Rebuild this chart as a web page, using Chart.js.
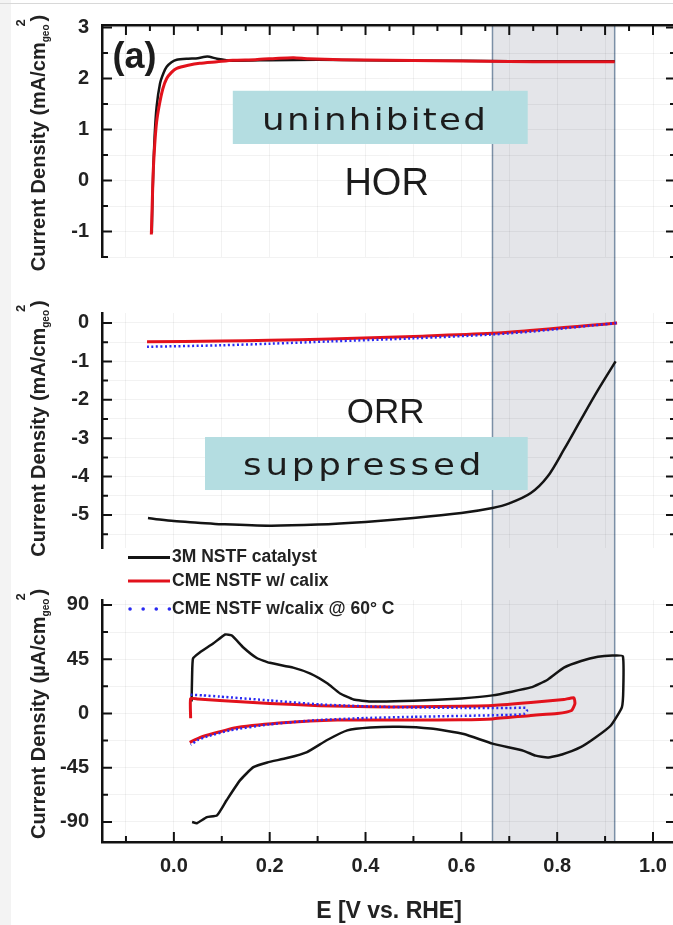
<!DOCTYPE html>
<html>
<head>
<meta charset="utf-8">
<script src="https://cdn.jsdelivr.net/npm/chart.js@4.4.1/dist/chart.umd.min.js"></script>
<style>
  html, body { margin: 0; padding: 0; background: #fff; }
  #wrap { position: relative; width: 673px; height: 925px; overflow: hidden; background: #fff; }
  #wrap .strip { position: absolute; left: 0; top: 0; width: 11px; height: 925px; background: #f3f3f3; }
  #wrap .rule { position: absolute; left: 0; top: 3px; width: 673px; height: 1px; background: #d8d8d8; }
  canvas { position: absolute; left: 0; }
</style>
</head>
<body>
<div id="wrap">
  <div class="strip"></div><div class="rule"></div>
  <canvas id="hor" width="680" height="285" style="top:0px"></canvas>
  <canvas id="orr" width="680" height="290" style="top:285px"></canvas>
  <canvas id="cv" width="680" height="380" style="top:545px"></canvas>
</div>
<script>
// values
var bandRange = [0.665, 0.92];
var seriesNames = ['3M NSTF catalyst', 'CME NSTF w/ calix', 'CME NSTF w/calix @ 60\u00b0 C'];

// HOR, mA/cm2
var hor3mX = [-0.046, -0.045, -0.043, -0.040, -0.036, -0.029, -0.022, -0.015, -0.005, 0.006, 0.03, 0.05, 0.07, 0.09, 0.12, 0.2, 0.3, 0.4, 0.5, 0.6, 0.7, 0.8, 0.92];
var hor3mY = [-1.03, -0.5, 0.2, 0.9, 1.45, 1.9, 2.1, 2.23, 2.32, 2.37, 2.39, 2.4, 2.43, 2.39, 2.35, 2.36, 2.37, 2.36, 2.35, 2.35, 2.34, 2.34, 2.34];
var horCmeX = [-0.047, -0.045, -0.043, -0.040, -0.036, -0.030, -0.023, -0.015, -0.005, 0.006, 0.03, 0.054, 0.09, 0.123, 0.17, 0.22, 0.25, 0.28, 0.35, 0.45, 0.55, 0.65, 0.75, 0.85, 0.92];
var horCmeY = [-1.06, -0.4, 0.2, 0.7, 1.15, 1.5, 1.8, 2.0, 2.12, 2.2, 2.26, 2.3, 2.33, 2.36, 2.37, 2.4, 2.41, 2.39, 2.37, 2.36, 2.35, 2.34, 2.33, 2.33, 2.33];

// ORR, mA/cm2
var orr3mX = [-0.054, -0.03, 0.0, 0.05, 0.1, 0.2, 0.3, 0.4, 0.5, 0.6, 0.665, 0.7, 0.745, 0.78, 0.814, 0.849, 0.885, 0.922];
var orr3mY = [-5.08, -5.12, -5.16, -5.2, -5.24, -5.28, -5.25, -5.18, -5.08, -4.95, -4.82, -4.7, -4.43, -4.0, -3.3, -2.53, -1.75, -1.0];
var orrCmeX = [-0.056, 0.1, 0.2, 0.326, 0.5, 0.665, 0.75, 0.814, 0.87, 0.925];
var orrCmeY = [-0.49, -0.47, -0.45, -0.42, -0.35, -0.27, -0.19, -0.12, -0.06, 0.0];
var orr60X = [-0.056, 0.1, 0.2, 0.326, 0.5, 0.665, 0.75, 0.814, 0.87, 0.925];
var orr60Y = [-0.62, -0.58, -0.54, -0.48, -0.4, -0.3, -0.22, -0.14, -0.07, 0.0];

// CV, uA/cm2 (anodic sweep then cathodic sweep)
var cv3mX = [0.037, 0.038, 0.040, 0.054, 0.082, 0.107, 0.121, 0.145, 0.173, 0.2, 0.249, 0.285, 0.32, 0.347, 0.375, 0.41, 0.5, 0.6, 0.665, 0.745, 0.78, 0.814, 0.85, 0.885, 0.915, 0.937, 0.938, 0.935, 0.912, 0.88, 0.849, 0.81, 0.78, 0.755, 0.73, 0.665, 0.605, 0.536, 0.47, 0.41, 0.362, 0.32, 0.278, 0.236, 0.195, 0.166, 0.138, 0.11, 0.09, 0.069, 0.048, 0.038];
var cv3mY = [10, 30, 45.6, 50.6, 58, 65.5, 64.6, 54.7, 46, 42, 38, 33, 25, 16.6, 11.6, 10, 10.5, 12.5, 15, 21.6, 28, 38, 43.5, 47, 48, 47.5, 20, 5, -10, -20, -28, -34, -36.5, -35, -31, -25, -17, -12.5, -11, -11.6, -14, -22, -32, -37, -40.6, -44.5, -55.5, -72, -84.5, -86, -91, -90];
var cvCmeX = [0.035, 0.035, 0.05, 0.096, 0.2, 0.305, 0.41, 0.5, 0.6, 0.665, 0.745, 0.814, 0.835, 0.837, 0.83, 0.8, 0.745, 0.665, 0.6, 0.5, 0.41, 0.341, 0.236, 0.132, 0.082, 0.054, 0.033];
var cvCmeY = [-4, 12.4, 12, 10.8, 8.3, 6.5, 5.5, 5.5, 6, 6.6, 9, 11.6, 13, 8, 2.5, 0, -1.6, -4.5, -5.3, -5.5, -5.5, -5.5, -7.5, -11.6, -16.6, -20, -24];
var cv60X = [0.035, 0.06, 0.096, 0.2, 0.305, 0.41, 0.5, 0.6, 0.7, 0.735, 0.737, 0.73, 0.7, 0.6, 0.5, 0.4, 0.3, 0.2, 0.117, 0.07, 0.05, 0.035];
var cv60Y = [15.5, 15, 14, 10.8, 7.5, 5.8, 5, 4.6, 4.5, 4.6, 2, -0.5, -1.2, -2, -2.8, -3.8, -5.5, -9, -14, -19, -22, -26];

function pts(xs, ys) {
    return xs.map(function (x, i) { return {x: x, y: ys[i]}; });
}

var FONT = '"Liberation Sans", Arial, sans-serif';
Chart.defaults.font.family = FONT;
Chart.defaults.color = '#222';

function isMajor(v, step) {
    return Math.abs(v / step - Math.round(v / step)) < 1e-6;
}

function line(label, data, color, width, dash, tension) {
    return {label: label, data: data, showLine: true, borderColor: color, borderWidth: width,
        borderDash: dash || [], pointRadius: 0, fill: false, tension: tension || 0};
}
var BLACK = '#141414', RED = '#e2121c', BLUE = '#2a2af2';

// shaded potential window, runs through all three panels
var band = {
    id: 'band',
    beforeDraw: function (chart, args, o) {
        var ctx = chart.ctx, a = chart.chartArea, xs = chart.scales.x;
        var x0 = xs.getPixelForValue(bandRange[0]), x1 = xs.getPixelForValue(bandRange[1]);
        var y0 = o.top === 'area' ? a.top : o.top;
        var y1 = o.bottom === 'area' ? a.bottom : chart.height;
        ctx.save();
        ctx.fillStyle = '#e4e5e9';
        ctx.fillRect(x0, y0, x1 - x0, y1 - y0);
        ctx.strokeStyle = '#7b8fa6';
        ctx.lineWidth = 1.5;
        ctx.beginPath();
        ctx.moveTo(x0, y0); ctx.lineTo(x0, y1);
        ctx.moveTo(x1, y0); ctx.lineTo(x1, y1);
        ctx.stroke();
        ctx.restore();
    }
};

// tick marks pointing into the plot, major and minor
var innerTicks = {
    id: 'innerTicks',
    afterDatasetsDraw: function (chart, args, o) {
        var ctx = chart.ctx, a = chart.chartArea;
        ctx.save();
        ctx.strokeStyle = '#111';
        ctx.lineWidth = 2;
        Object.keys(o.majors || {}).forEach(function (id) {
            var s = chart.scales[id], major = o.majors[id];
            s.ticks.forEach(function (t) {
                var len = isMajor(t.value, major) ? 10 : 6;
                var p = s.getPixelForValue(t.value);
                ctx.beginPath();
                if (s.isHorizontal()) {
                    if (s.options.position === 'top') { ctx.moveTo(p, a.top); ctx.lineTo(p, a.top + len); }
                    else { ctx.moveTo(p, a.bottom); ctx.lineTo(p, a.bottom - len); }
                } else {
                    ctx.moveTo(a.left, p); ctx.lineTo(a.left + len, p);
                    ctx.moveTo(a.right, p); ctx.lineTo(a.right - len, p);
                }
                ctx.stroke();
            });
        });
        ctx.restore();
    }
};

// y title with sub- and superscript
var yTitle = {
    id: 'yTitle',
    afterDraw: function (chart, args, o) {
        var ctx = chart.ctx, a = chart.chartArea;
        var big = 'bold 20px ' + FONT, sub = 'bold 10px ' + FONT, sup = 'bold 13px ' + FONT;
        var main = 'Current Density (' + o.unit + '/cm';
        ctx.save();
        ctx.font = big; var w1 = ctx.measureText(main).width;
        ctx.font = sub; var w2 = ctx.measureText('geo').width;
        ctx.font = big; var w4 = ctx.measureText(')').width;
        var total = w1 + w2 + 3 + w4;
        ctx.translate(38, (a.top + a.bottom) / 2 + o.shift);
        ctx.rotate(-Math.PI / 2);
        ctx.fillStyle = '#222';
        ctx.textAlign = 'left';
        ctx.textBaseline = 'alphabetic';
        var u = -total / 2;
        ctx.fillText(main, u, 7);
        u += w1;
        ctx.font = sub; ctx.fillText('geo', u, 11);
        ctx.font = sup; ctx.fillText('2', u + w2 - 2, -13);
        u += w2 + 3;
        ctx.font = big; ctx.fillText(')', u, 7);
        ctx.restore();
    }
};

// text labels and boxes placed in data coordinates
var notes = {
    id: 'notes',
    afterDatasetsDraw: function (chart, args, o) {
        var ctx = chart.ctx, xs = chart.scales.x, ys = chart.scales.y;
        ctx.save();
        (o.items || []).forEach(function (n) {
            if (n.box) {
                var px0 = xs.getPixelForValue(n.box[0]), px1 = xs.getPixelForValue(n.box[1]);
                var py0 = ys.getPixelForValue(n.box[2]), py1 = ys.getPixelForValue(n.box[3]);
                ctx.fillStyle = '#b4dde1';
                ctx.fillRect(px0, py0, px1 - px0, py1 - py0);
            }
            ctx.save();
            ctx.font = n.font;
            ctx.fillStyle = '#1c1c1c';
            ctx.textAlign = n.align || 'center';
            ctx.textBaseline = 'alphabetic';
            var px = xs.getPixelForValue(n.x), py = ys.getPixelForValue(n.y);
            ctx.translate(px, py);
            if (n.fit) {
                var w = ctx.measureText(n.text).width;
                var sx = Math.min(n.fit / w, 1.15);
                ctx.scale(sx, 1);
                if ('letterSpacing' in ctx) {
                    ctx.letterSpacing = ((n.fit / sx - w) / n.text.length).toFixed(2) + 'px';
                }
            }
            ctx.fillText(n.text, 0, 0);
            ctx.restore();
        });
        ctx.restore();
    }
};

// legend sitting between the ORR and CV panels
var seriesLegend = {
    id: 'seriesLegend',
    afterDatasetsDraw: function (chart, args, o) {
        var ctx = chart.ctx;
        ctx.save();
        ctx.font = 'bold 17.5px ' + FONT;
        ctx.textBaseline = 'middle';
        ctx.textAlign = 'left';
        seriesNames.forEach(function (name, i) {
            var ds = chart.data.datasets.filter(function (d) { return d.label === name; })[0];
            var y = o.rows[i];
            var dotted = ds.borderDash && ds.borderDash.length;
            ctx.strokeStyle = ds.borderColor;
            ctx.lineWidth = dotted ? 3.5 : 3;
            ctx.lineCap = dotted ? 'round' : 'butt';
            ctx.setLineDash(dotted ? [0.1, 13] : []);
            ctx.beginPath();
            ctx.moveTo(o.x + (dotted ? 2 : 0), y);
            ctx.lineTo(o.x + o.len, y);
            ctx.stroke();
            ctx.setLineDash([]);
            ctx.fillStyle = '#222';
            ctx.fillText(name, o.x + o.len + 2, y);
        });
        ctx.restore();
    }
};

var tickFont = {family: FONT, size: 20, weight: 'bold'};
var X_MIN = -0.15, X_MAX = 1.048;

function xScale(showLabels) {
    return {
        type: 'linear', min: X_MIN, max: X_MAX, position: 'bottom',
        grid: {color: 'rgba(0,0,0,0.05)', drawTicks: false},
        border: {display: showLabels, color: '#111', width: 2.5},
        ticks: {display: showLabels, stepSize: 0.1, includeBounds: false, autoSkip: false, maxRotation: 0,
            padding: 12, color: '#222', font: tickFont,
            callback: function (v) { return isMajor(v, 0.2) ? v.toFixed(1) : ''; }},
        title: {display: showLabels, text: 'E [V vs. RHE]', color: '#222',
            font: {family: FONT, size: 23, weight: 'bold'}, padding: {top: 0, bottom: 0}},
        afterFit: function (s) { s.height = showLabels ? 83 : 0; }
    };
}

function yScale(min, max, step, major) {
    return {
        type: 'linear', min: min, max: max, position: 'left',
        grid: {color: 'rgba(0,0,0,0.05)', drawTicks: false},
        border: {color: '#111', width: 2.5},
        ticks: {stepSize: step, includeBounds: false, autoSkip: false, padding: 13, color: '#222', font: tickFont,
            callback: function (v) { return isMajor(v, major) ? String(Math.round(v)) : ''; }},
        afterFit: function (s) { s.width = 102; }
    };
}

function baseOptions(padding) {
    return {
        responsive: false, animation: false, events: [],
        layout: {padding: padding},
        plugins: {legend: {display: false}, tooltip: {enabled: false}}
    };
}

// HOR panel
var horOpts = baseOptions({left: 0, right: 4, top: 22, bottom: 28});
horOpts.scales = {
    x: xScale(false),
    x2: {type: 'linear', min: X_MIN, max: X_MAX, position: 'top', grid: {display: false},
        border: {display: true, color: '#111', width: 2.5},
        ticks: {display: false, stepSize: 0.05, includeBounds: false},
        afterFit: function (s) { s.height = 0; }},
    y: yScale(-1.5, 3.05, 0.5, 1)
};
horOpts.plugins.band = {top: 'area', bottom: 'canvas'};
horOpts.plugins.innerTicks = {majors: {y: 1, x2: 0.1}};
horOpts.plugins.yTitle = {unit: 'mA', shift: 2};
horOpts.plugins.notes = {items: [
    {text: '(a)', x: -0.128, y: 2.2, align: 'left', font: 'bold 36px ' + FONT},
    {text: 'uninhibited', x: 0.42, y: 1.0, box: [0.123, 0.7385, 1.76, 0.716], fit: 226, font: '31px "DejaVu Sans", sans-serif'},
    {text: 'HOR', x: 0.444, y: -0.29, font: '38px ' + FONT}
]};
new Chart(document.getElementById('hor'), {
    type: 'scatter',
    data: {datasets: [
        line(seriesNames[1], pts(horCmeX, horCmeY), RED, 3, null, 0.2),
        line(seriesNames[0], pts(hor3mX, hor3mY), BLACK, 2.5, null, 0.2)
    ]},
    options: horOpts,
    plugins: [band, innerTicks, notes, yTitle]
});

// ORR panel
var orrOpts = baseOptions({left: 0, right: 4, top: 28, bottom: 27});
orrOpts.scales = {x: xScale(false), y: yScale(-5.86, 0.26, 0.5, 1)};
orrOpts.plugins.band = {top: 0, bottom: 'canvas'};
orrOpts.plugins.innerTicks = {majors: {y: 1}};
orrOpts.plugins.yTitle = {unit: 'mA', shift: -2};
orrOpts.plugins.notes = {items: [
    {text: 'ORR', x: 0.442, y: -2.6, font: '35px ' + FONT},
    {text: 'suppressed', x: 0.397, y: -3.96, box: [0.065, 0.7385, -2.97, -4.35], fit: 242, font: '31px "DejaVu Sans", sans-serif'}
]};
new Chart(document.getElementById('orr'), {
    type: 'scatter',
    data: {datasets: [
        line(seriesNames[2], pts(orr60X, orr60Y), BLUE, 2.5, [2, 2.5], 0.3),
        line(seriesNames[1], pts(orrCmeX, orrCmeY), RED, 3, null, 0.3),
        line(seriesNames[0], pts(orr3mX, orr3mY), BLACK, 2.5, null, 0.3)
    ]},
    options: orrOpts,
    plugins: [band, innerTicks, notes, yTitle]
});

// CV panel
var cvOpts = baseOptions({left: 0, right: 4, top: 55, bottom: 0});
cvOpts.scales = {x: xScale(true), y: yScale(-106.6, 94.1, 22.5, 45)};
cvOpts.plugins.band = {top: 30, bottom: 'area'};
cvOpts.plugins.innerTicks = {majors: {y: 45, x: 0.2}};
cvOpts.plugins.yTitle = {unit: '\u00b5A', shift: -7};
cvOpts.plugins.seriesLegend = {x: 128, len: 42, rows: [12.5, 36, 64]};
new Chart(document.getElementById('cv'), {
    type: 'scatter',
    data: {datasets: [
        line(seriesNames[2], pts(cv60X, cv60Y), BLUE, 2.5, [2, 2.5], 0.15),
        line(seriesNames[1], pts(cvCmeX, cvCmeY), RED, 3, null, 0.15),
        line(seriesNames[0], pts(cv3mX, cv3mY), BLACK, 2.5, null, 0.15)
    ]},
    options: cvOpts,
    plugins: [band, innerTicks, seriesLegend, yTitle]
});
</script>
</body>
</html>
